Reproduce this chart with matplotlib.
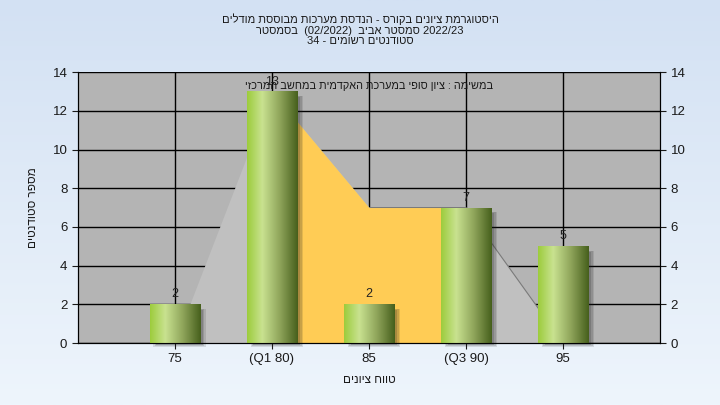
import numpy as np
import matplotlib
matplotlib.use("Agg")
import matplotlib.pyplot as plt
from matplotlib.colors import LinearSegmentedColormap
from matplotlib.patches import Rectangle

# data
grade_labels = ["75", "(Q1 80)", "85", "(Q3 90)", "95"]
counts = [2, 13, 2, 7, 5]
curve_values = [0, 13, 7, 7, 0]
q1_idx, q3_idx = 1, 3

title_line1 = "היסטוגרמת ציונים בקורס - הנדסת מערכות מבוססת מודלים"
semester_word = "בסמסטר"
semester_name = "סמסטר אביב"
students_text = "סטודנטים רשומים"
subtitle = "במשימה : ציון סופי במערכת האקדמית במחשב המרכזי"
xlabel = "טווח ציונים"
ylabel = "מספר סטודנטים"


def rev(s):
    # matplotlib has no bidi support, so Hebrew is written in visual order
    return s[::-1]


title_text = "\n".join([
    rev(title_line1),
    rev(semester_word) + "  (02/2022)  " + rev(semester_name) + " 2022/23",
    "34 - " + rev(students_text),
])

plt.rcParams['font.family'] = ['Liberation Sans', 'DejaVu Sans']
fig = plt.figure(figsize=(7.2, 4.05), dpi=100)

# figure background gradient
bg = fig.add_axes([0, 0, 1, 1], zorder=-10)
grad = np.linspace(0, 1, 256).reshape(-1, 1)
bg_cmap = LinearSegmentedColormap.from_list("bg", ["#d3e1f3", "#eef5fc"])
bg.imshow(grad, aspect='auto', cmap=bg_cmap, extent=[0, 1, 0, 1], origin='upper')
bg.axis('off')

ax = fig.add_axes([0.108, 0.153, 0.809, 0.669])
ax.set_facecolor("#b4b4b4")
x = np.arange(len(counts))

# grid
ax.set_axisbelow(True)
ax.grid(True, color="black", linewidth=1.0, zorder=0)

# distribution area and Q1-Q3 area
ax.fill_between(x, curve_values, color="#c0c0c0", zorder=1, linewidth=0)
ax.plot(x[2:], curve_values[2:], color="#7a7a7a", linewidth=0.8, zorder=1.2)
xi = x[q1_idx:q3_idx + 1]
ax.fill_between(xi, curve_values[q1_idx:q3_idx + 1], color="#ffcc55", zorder=1.5, linewidth=0)

# gradient bars with soft shadow
bar_w = 0.52
bar_cmap = LinearSegmentedColormap.from_list(
    "bar", [(0, "#9ccc3c"), (0.3, "#c9e290"), (0.65, "#8ea45a"), (1, "#465f1c")])
hgrad = np.linspace(0, 1, 256).reshape(1, -1)
for xc, h in zip(x, counts):
    for k, a in enumerate([0.12, 0.14, 0.18]):
        d = 0.015 * k
        shadow = Rectangle((xc - bar_w / 2 + 0.04 + d, -0.22 + d * 4), bar_w - 2 * d + 0.02, h - d * 6,
                           facecolor="#202020", alpha=a, edgecolor="none", zorder=2, clip_on=False)
        ax.add_patch(shadow)
    rect = Rectangle((xc - bar_w / 2, 0), bar_w, h, facecolor="none", edgecolor="none", zorder=3)
    ax.add_patch(rect)
    im = ax.imshow(hgrad, aspect='auto', cmap=bar_cmap,
                   extent=[xc - bar_w / 2, xc + bar_w / 2, 0, h], zorder=3)
    im.set_clip_path(rect)
    ax.text(xc, h + 0.2, str(h), ha='center', va='bottom', fontsize=9, color="#222222", zorder=4)

ax.set_xlim(-1, 5)
ax.set_ylim(0, 14)
ax.set_yticks(range(0, 15, 2))
ax.set_xticks(x)
ax.set_xticklabels(grade_labels)
ax.tick_params(axis='both', labelsize=9.5, colors="#1a1a1a", length=4)

ax.spines['top'].set_visible(False)
for side in ['left', 'right', 'bottom']:
    ax.spines[side].set_color("black")

ax2 = ax.twinx()
ax2.set_ylim(0, 14)
ax2.set_yticks(range(0, 15, 2))
ax2.tick_params(axis='y', labelsize=9.5, colors="#1a1a1a", length=4)
ax2.spines['top'].set_visible(False)

ax.text(2, 13.3, rev(subtitle), ha='center', va='center', fontsize=7.8, color="#1a1a1a", zorder=5)
ax.set_xlabel(rev(xlabel), fontsize=8.5, color="#1a1a1a", labelpad=6)
ax.set_ylabel(rev(ylabel), fontsize=8.5, color="#1a1a1a", labelpad=10)

fig.text(0.5, 0.968, title_text, ha='center', va='top', fontsize=8,
         color="#1a1a1a", linespacing=1.12)

fig.savefig("out.png", dpi=100)
